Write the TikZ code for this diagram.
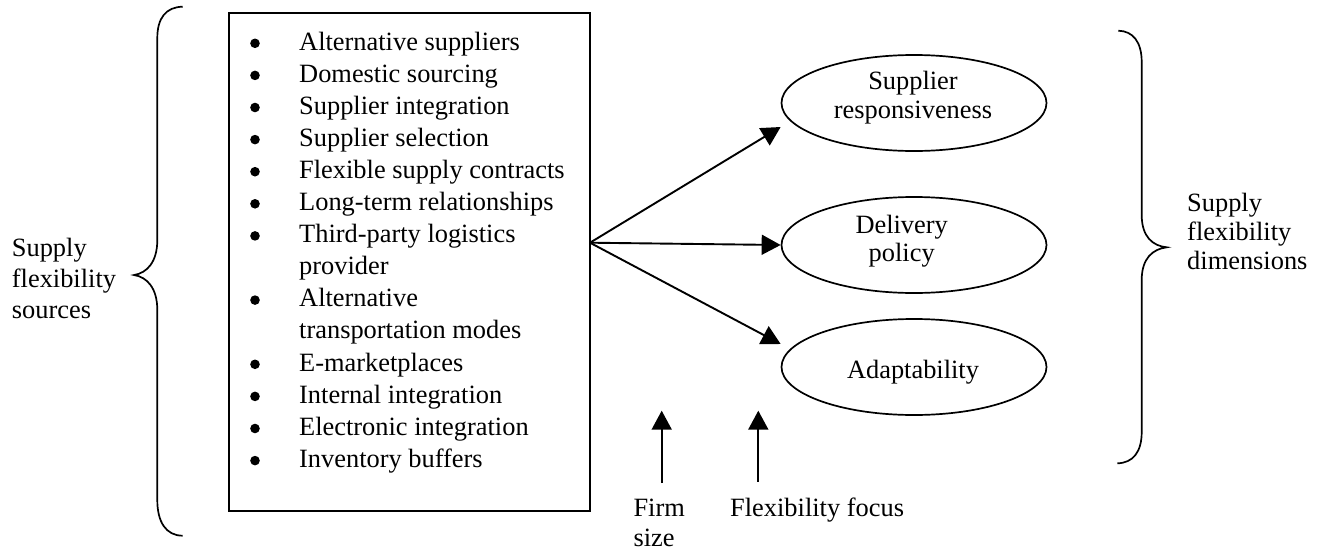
\documentclass[tikz,border=0pt]{standalone}
\usepackage{fontspec}
\setmainfont{Liberation Serif}
\usetikzlibrary{arrows.meta,shapes.geometric}
\begin{document}
\begin{tikzpicture}[
        x=1pt, y=-1pt,
        font=\fontsize{26.4}{31}\selectfont,
        arr/.style={-{Triangle[length=19pt,width=20pt]}, line width=1.9pt},
        dim/.style={ellipse, draw, line width=1.7pt, minimum width=265pt, minimum height=96pt, inner sep=0pt},
        txt/.style={inner sep=0pt, align=left},
    ]
    \useasboundingbox (0,0) rectangle (1319,554);
    % sources box
    \node[draw, line width=2pt, minimum width=360.7pt, minimum height=498.6pt, inner sep=0pt] (box) at (409.65,262) {};
    \node[inner sep=0pt, anchor=base west] (items) at (299,50) {\fontsize{26.4}{32.1}\selectfont
        \begin{tabular}[t]{@{}l@{}}
            Alternative suppliers\\
            Domestic sourcing\\
            Supplier integration\\
            Supplier selection\\
            Flexible supply contracts\\
            Long-term relationships\\
            Third-party logistics\\
            provider\\
            Alternative\\
            transportation modes\\
            E-marketplaces\\
            Internal integration\\
            Electronic integration\\
            Inventory buffers
        \end{tabular}};
    \foreach \r in {0,...,6,8,10,11,12,13}
        \fill (255,43.3+32.1*\r) circle (4.8pt);
    \coordinate (hub) at (590,242.7);
    % dimensions
    \node[dim] (resp) at (914,103) {};
    \node[dim] (deliv) at (914,245) {};
    \node[dim] (adapt) at (914,367) {};
    \node[txt, align=center, anchor=base, font=\fontsize{26.4}{29}\selectfont] (resptext) at (913,118.3) {Supplier\\responsiveness};
    \node[txt, align=center, anchor=base, font=\fontsize{26.4}{28.5}\selectfont] (delivtext) at (901.7,261.7) {Delivery\\policy};
    \node[txt, align=center, anchor=base] (adapttext) at (913,378) {Adaptability};
    \path[arr] (hub) edge ([yshift=-24pt]resp.west) edge (deliv.west) edge ([yshift=23pt]adapt.west);
    % braces
    \draw[line width=1.7pt] (182.7,6.7) .. controls (166,7) and (157.3,18) .. (157.3,38) -- (157.3,240) .. controls (157.3,262) and (147,273) .. (134,275) .. controls (147,277) and (157.3,288) .. (157.3,310) -- (157.3,500) .. controls (157.3,522) and (166,535.7) .. (182.7,535.7);
    \draw[line width=1.7pt] (1118.3,30.7) .. controls (1133,31) and (1141.7,42) .. (1141.7,62) -- (1141.7,215) .. controls (1141.7,237) and (1153,246) .. (1166.7,247.3) .. controls (1153,249) and (1141.7,258) .. (1141.7,280) -- (1141.7,432) .. controls (1141.7,452) and (1133,463) .. (1117.3,463.3);
    \node[txt, anchor=base west] (srclabel) at (11.7,318.3) {Supply\\flexibility\\sources};
    \node[txt, anchor=base west, font=\fontsize{26.4}{29}\selectfont] (dimlabel) at (1187,269) {Supply\\flexibility\\dimensions};
    % moderators
    \node[txt, anchor=base west, font=\fontsize{26.4}{30}\selectfont] (firm) at (633.3,546.7) {Firm\\size};
    \node[txt, anchor=base west] (focus) at (730,516.7) {Flexibility focus};
    \coordinate (sizetip) at (661.7,410.7);
    \coordinate (focustip) at (758.3,410.7);
    \draw[arr, shorten <=16pt] (firm.north -| sizetip) -- (sizetip);
    \draw[arr, shorten <=16pt] (focus.north -| focustip) -- (focustip);
\end{tikzpicture}
\end{document}
